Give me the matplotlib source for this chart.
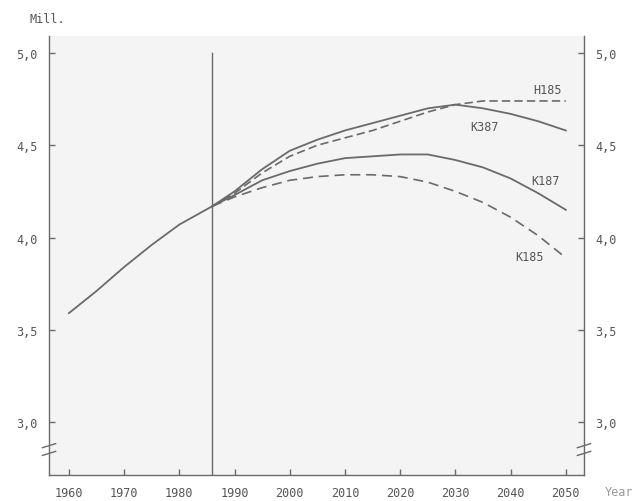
import matplotlib
matplotlib.use("Agg")
import matplotlib.pyplot as plt
from matplotlib.lines import Line2D

# ---- data ----
past_years = [1960, 1965, 1970, 1975, 1980, 1986]
past_vals = [3.59, 3.71, 3.84, 3.96, 4.07, 4.17]

proj_years = [1986, 1990, 1995, 2000, 2005, 2010, 2015, 2020, 2025, 2030, 2035, 2040, 2045, 2050]
k387 = [4.17, 4.25, 4.37, 4.47, 4.53, 4.58, 4.62, 4.66, 4.70, 4.72, 4.70, 4.67, 4.63, 4.58]
h185 = [4.17, 4.24, 4.35, 4.44, 4.50, 4.54, 4.58, 4.63, 4.68, 4.72, 4.74, 4.74, 4.74, 4.74]
k187 = [4.17, 4.23, 4.31, 4.36, 4.40, 4.43, 4.44, 4.45, 4.45, 4.42, 4.38, 4.32, 4.24, 4.15]
k185 = [4.17, 4.22, 4.27, 4.31, 4.33, 4.34, 4.34, 4.33, 4.30, 4.25, 4.19, 4.11, 4.01, 3.89]

x_ticks = [1960, 1970, 1980, 1990, 2000, 2010, 2020, 2030, 2040, 2050]
y_ticks = [3.0, 3.5, 4.0, 4.5, 5.0]
y_ticklabels = ["3,0", "3,5", "4,0", "4,5", "5,0"]

labels = {"H185": (2046.6, 4.80), "K387": (2035.2, 4.60), "K187": (2046.4, 4.31), "K185": (2043.5, 3.895)}

col = "#6a6a6a"
txt = "#555555"
font = "DejaVu Sans Mono"

fig = plt.figure(figsize=(6.35, 5.02), dpi=100)
ax = fig.add_axes([0.0772, 0.0518, 0.8425, 0.8745])
ax.set_facecolor("#f4f4f4")
ax.set_xlim(1956.4, 2053.3)
ax.set_ylim(2.713, 5.092)

ax.plot(past_years, past_vals, color=col, lw=1.3)
ax.plot(proj_years, k387, color=col, lw=1.3)
ax.plot(proj_years, h185, color=col, lw=1.2, dashes=(5, 2.5))
ax.plot(proj_years, k187, color=col, lw=1.3)
ax.plot(proj_years, k185, color=col, lw=1.2, dashes=(6, 3.5))

ax.plot([1986, 1986], [2.713, 5.0], color=col, lw=1.0)

for name, (xx, yy) in labels.items():
    ax.text(xx, yy, name, fontsize=8.5, family=font, color=txt, ha="center", va="center")

ax.spines["top"].set_visible(False)
for s in ["left", "right", "bottom"]:
    ax.spines[s].set_color(col)
    ax.spines[s].set_linewidth(1.0)

ax.set_xticks(x_ticks)
ax.set_xticklabels([str(v) for v in x_ticks])
ax.set_yticks(y_ticks)
ax.set_yticklabels(y_ticklabels)
ax.tick_params(axis="both", direction="in", length=4, width=1, color=col,
               labelsize=8.5, labelcolor=txt)
ax.tick_params(axis="y", right=True, labelright=True, pad=8)
ax.tick_params(axis="x", pad=8)
for lab in ax.get_xticklabels() + ax.get_yticklabels():
    lab.set_family(font)
for t in ax.yaxis.get_major_ticks():
    t.label2.set_family(font)

# axis break marks
for xside in [1956.4, 2053.3]:
    for yb in [2.872, 2.830]:
        ax.add_line(Line2D([xside - 1.2, xside + 1.2], [yb - 0.011, yb + 0.011],
                           color=col, lw=1.0, clip_on=False))

fig.text(0.047, 0.962, "Mill.", fontsize=8.5, family=font, color=txt, ha="left", va="center")
fig.text(0.953, 0.018, "Year", fontsize=8.5, family=font, color="#999999", ha="left", va="center")

fig.savefig("out.png", dpi=100)
